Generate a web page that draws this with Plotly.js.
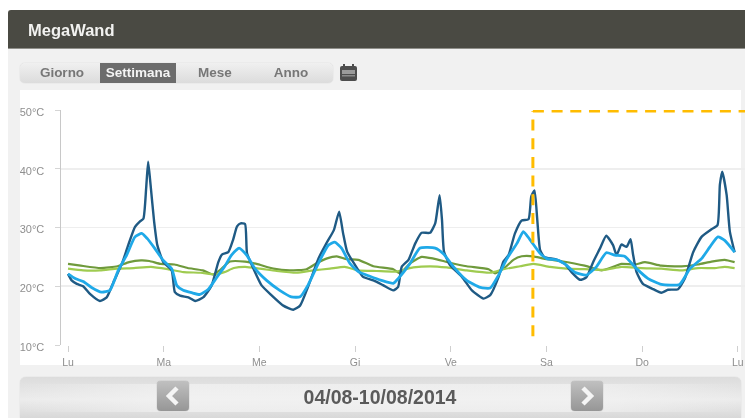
<!DOCTYPE html>
<html>
<head>
<meta charset="utf-8">
<script src="https://cdn.plot.ly/plotly-3.0.1.min.js"></script>
<style>
html,body{margin:0;padding:0;background:#fff;overflow:hidden}
#wrap{position:relative;width:745px;height:418px;background:#fff;font-family:"Liberation Sans",Arial,sans-serif;filter:blur(0.75px);overflow:hidden}
.abs{position:absolute}
#page{left:8px;top:10px;width:737px;height:408px;background:#f1f1f1}
#head{left:8px;top:10px;width:737px;height:39px;background:#4a4a43;border-radius:3px 0 0 0;border-bottom:1px solid #8f8f8a;box-sizing:border-box}
#title{left:28px;top:20px;color:#f2f2f0;font-weight:bold;font-size:16.5px;line-height:20px}
#tabs{left:20px;top:63px;width:313px;height:20px;border-radius:5px;background:linear-gradient(#f0f0f0,#dcdcdc);box-shadow:0 0 1px #bbb}
.tab{position:absolute;top:63px;height:20px;line-height:20px;font-size:13.5px;font-weight:bold;color:#777;text-align:center}
#panel{left:20px;top:90px;width:721px;height:275px;background:#fff}
#bar{left:20px;top:377px;width:721px;height:41px;border-radius:6px 6px 0 0;background:linear-gradient(#dcdcdc,#ececec 55%,#d8d8d8);box-shadow:0 0 1px #bbb}
#inner{left:20px;top:384px;width:721px;height:28px;background:linear-gradient(90deg,rgba(255,255,255,0),#f3f3f3 22%,#f3f3f3 78%,rgba(255,255,255,0));opacity:.7}
#date{left:230px;top:386px;width:300px;text-align:center;font-size:19.5px;font-weight:bold;line-height:22px;color:#5a5a5a}
.btn{position:absolute;top:381px;width:32px;height:30px;border-radius:4px;background:linear-gradient(#c0c0c0,#969696);box-shadow:0 0 1px #777}
#chart{position:absolute;left:0;top:0;width:745px;height:418px}
</style>
</head>
<body>
<div id="wrap">
  <div class="abs" id="page"></div>
  <div class="abs" id="head"></div>
  <div class="abs" id="title">MegaWand</div>
  <div class="abs" id="tabs"></div>
  <div class="tab" style="left:24px;width:76px">Giorno</div>
  <div class="tab" style="left:100px;width:76px;background:#6c6c6c;color:#f4f4f4">Settimana</div>
  <div class="tab" style="left:178px;width:74px">Mese</div>
  <div class="tab" style="left:254px;width:74px">Anno</div>
  <svg class="abs" style="left:339px;top:64px" width="20" height="18">
    <rect x="1" y="2" width="17" height="15" rx="2" fill="#4d4d4d"/>
    <rect x="3" y="6" width="13" height="4" fill="#9a9a9a"/>
    <rect x="3" y="11" width="13" height="1.5" fill="#8a8a8a"/>
    <rect x="4" y="0" width="2" height="4" fill="#4d4d4d"/><rect x="13" y="0" width="2" height="4" fill="#4d4d4d"/>
  </svg>
  <div class="abs" id="panel"></div>
  <div class="abs" id="bar"></div>
  <div class="abs" id="inner"></div>
  <div class="btn" style="left:157px"><svg width="32" height="30"><polyline points="20,7 12,15 20,23" fill="none" stroke="#f5f5f5" stroke-width="4.5"/></svg></div>
  <div class="btn" style="left:571px"><svg width="32" height="30"><polyline points="12,7 20,15 12,23" fill="none" stroke="#f5f5f5" stroke-width="4.5"/></svg></div>
  <div class="abs" id="date">04/08-10/08/2014</div>
  <div id="chart"></div>
</div>
<script>
const dayLabels = ["Lu","Ma","Me","Gi","Ve","Sa","Do","Lu"];
const dayHours = [0,24,48,72,96,120,144,168];
const tempTicks = [10,20,30,40,50];
const tempLabels = ["10°C","20°C","30°C","40°C","50°C"];

const darkHours = [0,0.9,2.2,3.8,5.5,8,9.7,11.4,13.5,15.1,16.8,18,18.9,19.6,20.1,20.7,21.6,22.4,23.9,26,26.8,28.1,30.2,31.9,33.9,36,37.7,38.6,40.2,41.4,42.4,43.3,44.4,44.9,46.5,48.5,51,54,56.5,58.2,60.2,62.8,64.8,66.7,68,69,70,72,74,76.6,79,81.6,82.8,83.7,85.4,87.1,88.7,90.8,92.1,93.2,93.8,94.3,95.8,98.8,101.3,104.2,105.9,108,109.2,110.5,112.1,113.8,115.5,116.2,117,117.7,118.4,119.4,122.2,124.6,126.3,128.4,130,131.7,133.4,135,136.7,137.6,138.8,140.1,141.1,141.7,142.6,144.2,146.8,148.8,150.5,153,154.7,156.8,158.9,161.4,162.9,163.5,164.1,165.2,166,167.2];
const darkTemps = [22.1,21,20.4,20,18.7,17.5,18.1,20.7,23.8,27,30.1,31,31.5,36.7,41.2,37.3,31,27,24.1,22.7,19,18.4,18.1,17.5,18.1,20.1,24.1,25.4,25.8,27.9,30.2,30.7,30.6,25.6,23,20.2,18.5,16.7,16,16.7,19.9,24.7,27.3,29.6,32.7,29,25.9,23.6,21.6,21,20.2,19.3,19.9,23.3,24.5,27.3,29.1,29.1,30.7,35.5,31.3,25.9,23.6,21.6,19.3,17.9,18.5,21.6,24.2,25.3,29,31.2,31.4,35.3,36.3,31.3,26.2,25,24.6,23.8,22.4,21.1,21.5,24.1,26.4,28.6,27,25.3,27.1,26.7,28,25.5,22.4,20.4,19.5,18.9,19.4,19.5,21.3,25.8,28.4,29.7,30.4,37.3,39.5,35.5,29.3,25.8];

const lightHours = [0,1.8,3.8,5.9,8.4,10.5,12.6,14.7,16.8,18.5,19.9,21.8,23.9,26,27.3,28.9,31,33.1,35.2,37.3,39.4,41,42.9,44.8,46.9,49.8,53.1,56,58.2,60.2,62.8,65.3,66.9,68.6,70.7,72.8,75.7,78.6,81.6,82.8,85.8,88.3,92.1,94.2,96.7,100,103.4,105.9,108,110.1,112.6,114.2,115.9,118.4,120.1,122.6,124.6,127.1,130,132.5,135,137.1,139.6,142.6,145.5,148.8,153.4,156,158.9,161,163,164.7,167.2];
const lightTemps = [22.1,21.3,20.8,19.8,19,19.3,22.7,25.3,28.4,29,28.1,26.4,24.4,23,20.1,19.3,18.9,18.6,19.5,21.5,23.5,25.3,26.5,25.3,23,21,19.3,18.2,18.2,20.2,23.9,27,27.5,26.5,23.9,22.5,21.7,21,20.5,21.3,23.9,26.5,26.5,25.5,23.3,21,19.8,19.7,21.9,24.7,27.3,29.3,27.9,25.6,24.7,24.5,23.8,22.4,21.9,23.3,25.7,25.3,25.1,23,21.3,20.3,20.3,23,24.7,26.7,28.4,27.8,25.8];

const oliveHours = [0,3.2,8.2,12.4,15.3,18.3,20.4,23.3,26.7,30,33.8,36.3,38,40.6,44.4,47.3,51.5,55.6,59.8,62.3,64.8,67.4,69.9,72.8,76.6,81.6,83.2,85.8,88.7,91.7,95.8,100,105.5,107.1,109.6,111.7,113.8,116.7,119.3,123.4,129.6,133.8,137.1,138.8,142.2,144.7,148.8,153.9,158,161.4,164.7,167.2];
const oliveTemps = [23.8,23.5,23.1,23.4,24.1,24.4,24.3,23.8,23.7,23.1,22.7,22,22.7,24.2,24.2,23.8,23,22.7,22.9,23.9,24.7,25.1,24.6,24.5,23.4,22.9,22.2,23.9,25,24.7,24,23.4,22.9,22.2,23.2,24.5,25.1,25.1,24.7,24.3,23.5,22.7,23.4,23.8,23.7,24.1,23.5,23.4,23.7,24.2,24.5,24.1];

const limeHours = [0,3.8,8,12.3,16.5,20.8,25,29,33.3,36.7,39.2,41.6,44.4,48.1,52.3,57.3,61.5,65.7,69.4,72.8,77.4,82.4,86.6,90.8,95,100,105.9,109.2,113.4,116.7,120.9,125.1,129.6,134.6,138.8,143.8,148.8,153.9,158,162.2,164.7,167.2];
const limeTemps = [23,22.7,22.7,23,23.1,23.3,22.9,22.4,22.3,22,22.4,23.1,23.3,23,22.6,22.3,22.7,23,23.3,22.7,22.6,22.5,23.2,23.4,23.2,22.7,22.3,22.9,23.4,23.8,23.3,23,22.9,22.8,23.3,23.1,23,22.7,23.1,23.1,23.3,23.1];

// dashed marker: start hour of the highlighted period and its top/bottom temperatures
const markerHour = 116.6;
const markerTop = 49.85;
const markerBottom = 11.5;

function series(x, y, color, width){
  return {x:x, y:y, type:"scatter", mode:"lines", hoverinfo:"skip",
    line:{color:color, width:width, shape:"spline", smoothing:0.5}};
}
const traces = [
  series(oliveHours, oliveTemps, "#6f9a3c", 2.2),
  series(limeHours, limeTemps, "#9fcb50", 2.2),
  series(darkHours, darkTemps, "#1f5a84", 2.4),
  series(lightHours, lightTemps, "#1fa9e8", 2.8)
];
const layout = {
  width:745, height:418,
  margin:{l:61, r:0, t:110, b:73, pad:0},
  paper_bgcolor:"rgba(0,0,0,0)", plot_bgcolor:"rgba(0,0,0,0)",
  showlegend:false,
  font:{family:'"Liberation Sans",Arial,sans-serif', size:11, color:"#8f8f8f"},
  xaxis:{range:[-1.76,169.8], tickvals:dayHours, ticktext:dayLabels, showgrid:false, zeroline:false,
    showline:false, ticks:"outside", ticklen:6, tickcolor:"#cfcfcf", tickwidth:1, ticklabelstandoff:1,
    tickfont:{size:10.5,color:"#8f8f8f"}},
  yaxis:{range:[10,50], tickvals:tempTicks, ticktext:tempLabels, showgrid:true, gridcolor:"#eeeeee", gridwidth:1.6,
    zeroline:false, showline:true, linecolor:"#c8c8c8", linewidth:1.5, ticks:"outside", ticklen:5,
    tickcolor:"#d5d5d5", tickwidth:1, ticklabelstandoff:8, ticklabelshift:2,
    tickfont:{size:11,color:"#8f8f8f"}},
  shapes:[
    {type:"line", xref:"x", yref:"y", x0:markerHour, x1:markerHour, y0:markerBottom, y1:markerTop, layer:"above",
      line:{color:"#ffbc00", width:3, dash:"11px,7.7px"}},
    {type:"line", xref:"x", yref:"y", x0:markerHour, x1:169.8, y0:markerTop, y1:markerTop, layer:"above",
      line:{color:"#ffbc00", width:3, dash:"11px,7.7px"}}
  ]
};
Plotly.newPlot("chart", traces, layout, {displayModeBar:false, staticPlot:true});
</script>
</body>
</html>
